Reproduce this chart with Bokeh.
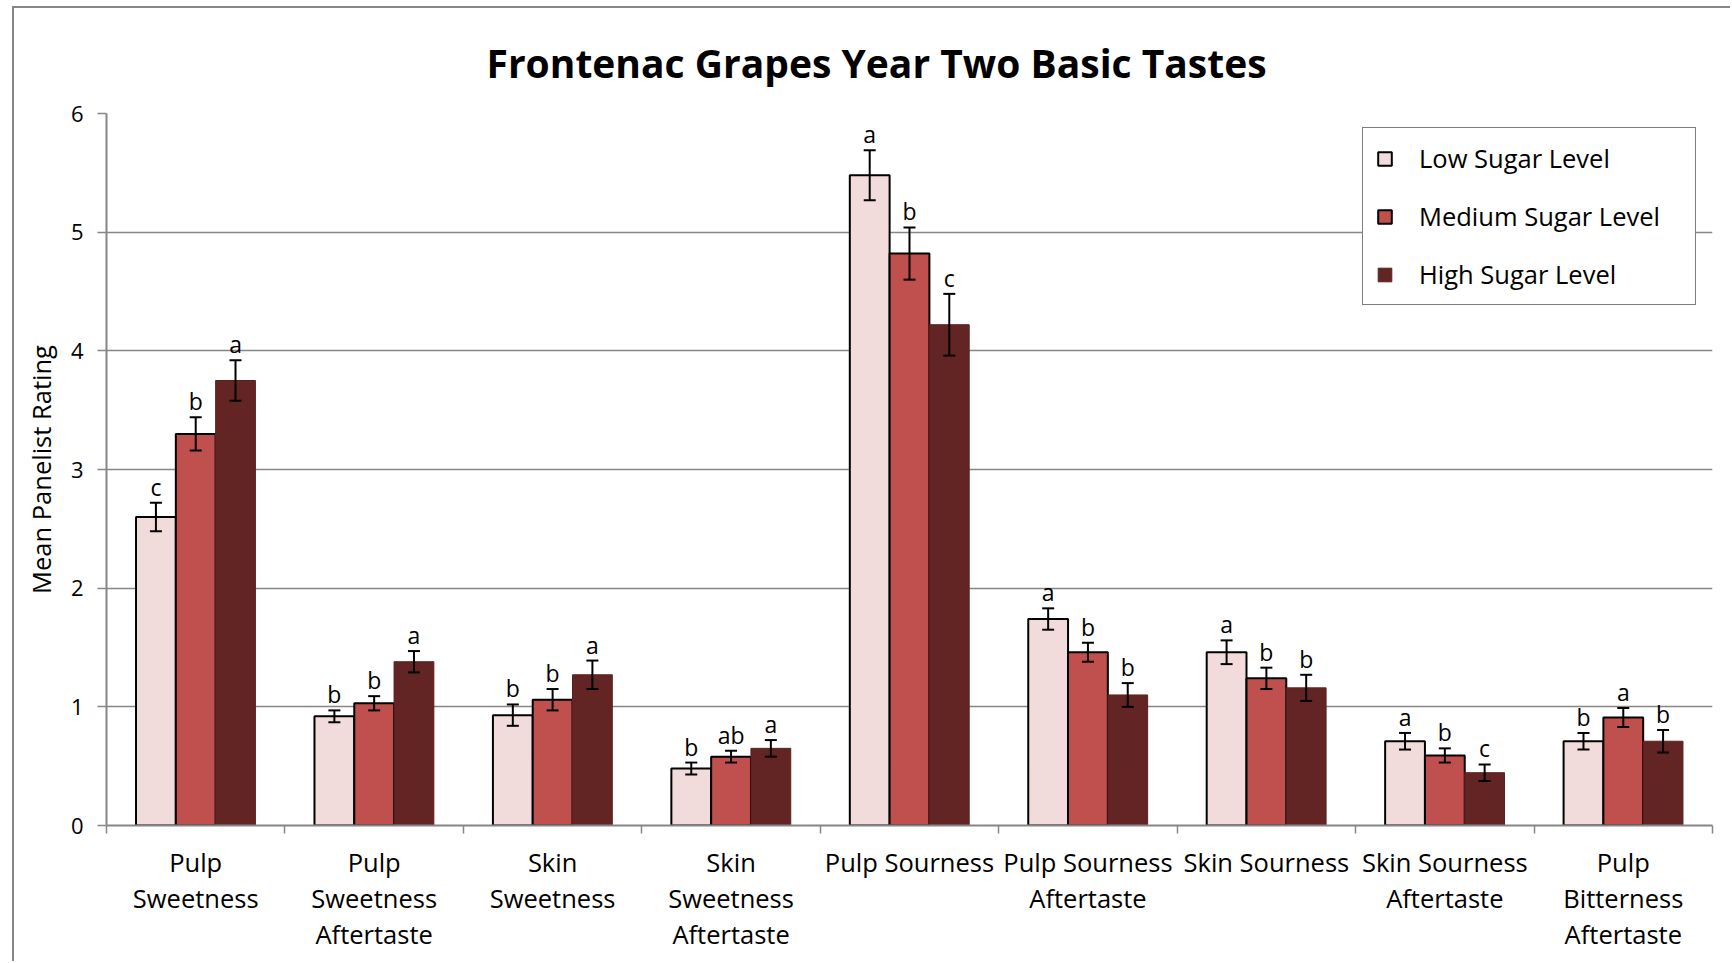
from bokeh.plotting import figure
from bokeh.models import (ColumnDataSource, Range1d, FixedTicker, Whisker, TeeHead, Legend)
from bokeh.core.properties import value
from bokeh.embed import file_html
from bokeh.resources import INLINE

categories = ["Pulp\nSweetness", "Pulp\nSweetness\nAftertaste", "Skin\nSweetness",
              "Skin\nSweetness\nAftertaste", "Pulp Sourness", "Pulp Sourness\nAftertaste",
              "Skin Sourness", "Skin Sourness\nAftertaste", "Pulp\nBitterness\nAftertaste"]
series_names = ["Low Sugar Level", "Medium Sugar Level", "High Sugar Level"]
low = [2.60, 0.92, 0.93, 0.48, 5.48, 1.74, 1.46, 0.71, 0.71]
medium = [3.30, 1.03, 1.06, 0.58, 4.82, 1.46, 1.24, 0.59, 0.91]
high = [3.75, 1.38, 1.27, 0.65, 4.22, 1.10, 1.16, 0.445, 0.71]
low_err = [0.12, 0.05, 0.09, 0.05, 0.21, 0.09, 0.10, 0.07, 0.07]
medium_err = [0.14, 0.06, 0.09, 0.05, 0.22, 0.08, 0.09, 0.06, 0.08]
high_err = [0.17, 0.09, 0.12, 0.07, 0.26, 0.10, 0.11, 0.07, 0.095]
low_letters = ["c", "b", "b", "b", "a", "a", "a", "a", "b"]
medium_letters = ["b", "b", "b", "ab", "b", "b", "b", "b", "a"]
high_letters = ["a", "a", "a", "a", "c", "b", "b", "c", "b"]
y_ticks = [0, 1, 2, 3, 4, 5, 6]

FONT = "Open Sans"
GRID = "#868686"
fills = ["#F2DCDB", "#C0504D", "#632523"]
lines = ["black", "black", "#5a2120"]
bar_w = 0.223
offsets = [-bar_w, 0.0, bar_w]

p = figure(width=1718, height=955, output_backend="svg", toolbar_location=None,
           x_range=Range1d(0, len(categories)), y_range=Range1d(0, 6),
           min_border_left=92, min_border_right=20, min_border_top=105, min_border_bottom=138,
           background_fill_color="white", border_fill_color="white",
           margin=(6, 0, 0, 12),
           styles={"border-left": "2px solid #868686", "border-top": "2px solid #868686"})
p.outline_line_color = None

p.title.text = "Frontenac Grapes Year Two Basic Tastes"
p.title.text_font = FONT
p.title.text_font_style = "bold"
p.title.text_font_size = "39px"
p.title.text_color = "black"
p.title.align = "left"
p.title.vertical_align = "middle"
p.title.offset = 380
p.title.standoff = 48

centers = [i + 0.5 for i in range(len(categories))]
bounds = list(range(len(categories) + 1))

# axes
p.xaxis.ticker = FixedTicker(ticks=centers, minor_ticks=bounds)
p.xaxis.major_label_overrides = {c: lab for c, lab in zip(centers, categories)}
p.xaxis.major_tick_out = 0
p.xaxis.major_tick_in = 0
p.xaxis.minor_tick_out = 8
p.xaxis.minor_tick_in = 0
p.xaxis.minor_tick_line_color = GRID
p.xaxis.minor_tick_line_width = 1.5
p.xaxis.axis_line_color = GRID
p.xaxis.axis_line_width = 2
p.xaxis.major_label_text_font = FONT
p.xaxis.major_label_text_font_size = "25.5px"
p.xaxis.major_label_text_color = "black"
p.xaxis.major_label_text_line_height = 1.06
p.xaxis.major_label_standoff = 11

p.yaxis.ticker = FixedTicker(ticks=y_ticks)
p.yaxis.minor_tick_line_color = None
p.yaxis.major_tick_out = 9
p.yaxis.major_tick_in = 0
p.yaxis.major_tick_line_color = GRID
p.yaxis.major_tick_line_width = 1.5
p.yaxis.axis_line_color = GRID
p.yaxis.axis_line_width = 2
p.yaxis.major_label_text_font = FONT
p.yaxis.major_label_text_font_size = "22px"
p.yaxis.major_label_text_color = "black"
p.yaxis.major_label_standoff = 14
p.yaxis.axis_label = "Mean Panelist Rating"
p.yaxis.axis_label_text_font = FONT
p.yaxis.axis_label_text_font_size = "25.5px"
p.yaxis.axis_label_text_font_style = "normal"
p.yaxis.axis_label_text_color = "black"
p.yaxis.axis_label_standoff = 10

p.xgrid.grid_line_color = None
p.ygrid.grid_line_color = GRID
p.ygrid.grid_line_width = 1.5

legend_items = []
for k, (vals, errs, lets) in enumerate([(low, low_err, low_letters),
                                         (medium, medium_err, medium_letters),
                                         (high, high_err, high_letters)]):
    src = ColumnDataSource(dict(
        x=[c + offsets[k] for c in centers],
        top=vals,
        upper=[v + e for v, e in zip(vals, errs)],
        lower=[v - e for v, e in zip(vals, errs)],
        letter=lets,
    ))
    r = p.vbar(x="x", top="top", bottom=0, width=bar_w, source=src,
               fill_color=fills[k], line_color=lines[k], line_width=2 if k < 2 else 1)
    legend_items.append((series_names[k], [r]))
    w = Whisker(source=src, base="x", upper="upper", lower="lower",
                line_color="black", line_width=2, level="overlay",
                upper_head=TeeHead(size=12, line_color="black", line_width=2),
                lower_head=TeeHead(size=12, line_color="black", line_width=2))
    p.add_layout(w)
    p.text(x="x", y="upper", text="letter", source=src,
           text_font=value(FONT), text_font_size=value("23px"),
           text_align="center", text_baseline="alphabetic", y_offset=-16,
           text_color="black")

legend = Legend(items=legend_items, location=(1256, 520))
legend.label_text_font = FONT
legend.label_text_font_size = "25.5px"
legend.label_text_color = "black"
legend.glyph_width = 17
legend.glyph_height = 17
legend.label_height = 17
legend.spacing = 24
legend.padding = 13
legend.label_standoff = 26
legend.label_width = 263
legend.border_line_color = "black"
legend.border_line_width = 1.5
legend.background_fill_color = "white"
legend.background_fill_alpha = 1
p.add_layout(legend, "center")

open("out.html", "w").write(file_html(p, INLINE))
